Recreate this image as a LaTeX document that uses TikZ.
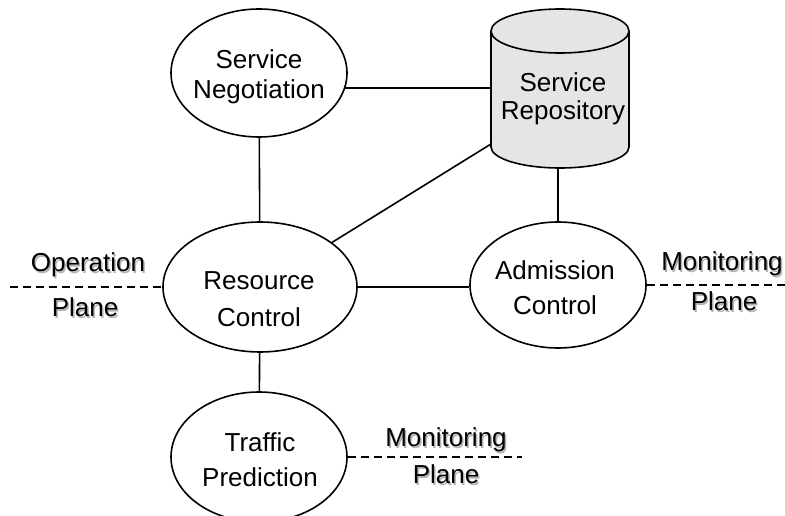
\documentclass[tikz,border=0pt]{standalone}
\usepackage{fontspec}
\setmainfont{Liberation Sans}
\usetikzlibrary{shapes.geometric}
\begin{document}
\begin{tikzpicture}[x=1pt,y=1pt,
  ell/.style={draw, ellipse, line width=1.6pt, inner sep=0pt},
  conn/.style={line width=1.6pt},
  plane/.style={line width=1.6pt, dash pattern=on 8pt off 5pt},
  txt/.style={font=\fontsize{26}{30}\selectfont, align=center, inner sep=0pt},
  lbl/.style={font=\fontsize{26}{30}\selectfont, inner sep=0pt, text height=0.72em, text depth=0pt},
  shadowlbl/.style={lbl, text=black!30}]
\useasboundingbox (0,0) rectangle (785,515);

% ellipses
\node[ell, minimum width=176pt, minimum height=128pt] (sn) at (259,442) {};
\node[ell, minimum width=194pt, minimum height=130pt] (rc) at (260,228) {};
\node[ell, minimum width=176pt, minimum height=126pt] (ac) at (558,230) {};
\node[ell, minimum width=176pt, minimum height=130pt] (tp) at (259,58) {};

% cylinder (service repository)
\filldraw[fill=black!10, line width=1.6pt, line join=round]
  (491,484) -- (491,368) arc[start angle=180, end angle=360, x radius=69, y radius=21]
  -- (629,484) arc[start angle=0, end angle=180, x radius=69, y radius=22] -- cycle;
\draw[line width=1.6pt] (491,484) arc[start angle=180, end angle=360, x radius=69, y radius=22];
\coordinate (repoW) at (491,426);
\coordinate (repoSW) at (491,371);
\coordinate (repoS) at (558,347);

% texts in shapes
\node[txt] (snt) at (259,438) {Service\\Negotiation};
\node[txt] (rct) at (259,216) {Resource\\[7pt]Control};
\node[txt] (act) at (555,227) {Admission\\[5pt]Control};
\node[txt] (tpt) at (260,55) {Traffic\\[5pt]Prediction};
\node[txt] (repot) at (563,416) {Service\\[-2pt]Repository};

% connectors
\draw[conn] (sn.-10.7) -- (sn.-10.7 -| repoW);
\draw[conn] (sn) -- (rc);
\draw[conn] (rc) -- (repoSW);
\draw[conn] (repoS) -- (ac);
\draw[conn] (rc.east) -- (rc.east -| ac.west);
\draw[conn] (rc) -- (tp);

% plane separators
\coordinate (opEnd) at (10,228);
\coordinate (mpEnd) at (785,228);
\coordinate (tpEnd) at (522,58);
\draw[plane] (opEnd) -- (rc.west);
\draw[plane] (ac.east) -- (ac.east -| mpEnd);
\draw[plane] (tp.east) -- (tpEnd);

% plane labels (with light shadow)
\node[shadowlbl] (opS) at (89.5,245.5) {Operation};
\node[lbl] (op) at (88,247) {Operation};
\node[shadowlbl] (opPS) at (86.5,200.5) {Plane};
\node[lbl] (opP) at (85,202) {Plane};

\node[shadowlbl] (mrS) at (723.5,246.5) {Monitoring};
\node[lbl] (mr) at (722,248) {Monitoring};
\node[shadowlbl] (mrPS) at (725.5,206.5) {Plane};
\node[lbl] (mrP) at (724,208) {Plane};

\node[shadowlbl] (mbS) at (447.5,70.5) {Monitoring};
\node[lbl] (mb) at (446,72) {Monitoring};
\node[shadowlbl] (mbPS) at (447.5,33.5) {Plane};
\node[lbl] (mbP) at (446,35) {Plane};
\end{tikzpicture}
\end{document}
